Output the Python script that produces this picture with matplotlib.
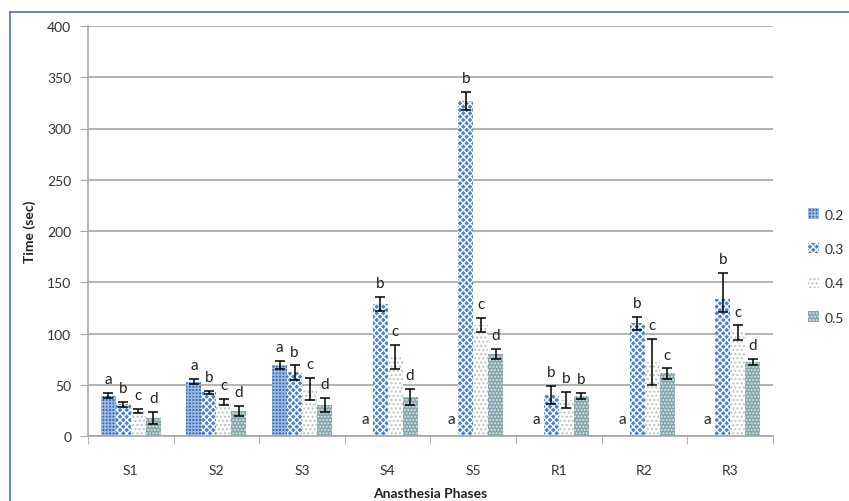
import numpy as np
import matplotlib
matplotlib.use("Agg")
import matplotlib.pyplot as plt
from matplotlib.lines import Line2D

plt.rcParams['font.family'] = ['Lato', 'DejaVu Sans']
plt.rcParams['hatch.linewidth'] = 1.0

phases = ['S1', 'S2', 'S3', 'S4', 'S5', 'R1', 'R2', 'R3']
doses = ['0.2', '0.3', '0.4', '0.5']

# mean time (sec) per dose
t_02 = [39.5, 53, 69.5, 0, 0, 0, 0, 0]
t_03 = [31, 42.5, 62, 129, 327, 40, 110, 134]
t_04 = [24.5, 33, 46, 77, 108, 35, 72, 101]
t_05 = [17.5, 24.5, 30.5, 38, 80, 39, 61, 72]

# error bars (lower, upper)
e_02_lo = [2.5, 2.5, 4, 0, 0, 0, 0, 0]
e_02_hi = [2.5, 2.5, 4, 0, 0, 0, 0, 0]
e_03_lo = [2.3, 1.5, 7, 7, 9, 9, 6.5, 13]
e_03_hi = [2.3, 1.5, 7, 7, 9, 9, 6.5, 25]
e_04_lo = [2, 3, 11, 12, 7, 8, 22.5, 7]
e_04_hi = [2, 3, 11, 12, 7, 8, 22.5, 7]
e_05_lo = [6, 5, 7, 8, 5, 3, 5, 3]
e_05_hi = [6, 5, 7, 8, 5, 3, 5, 3]

# significance letters per dose
let_02 = ['a'] * 8
let_03 = ['b'] * 8
let_04 = ['c', 'c', 'c', 'c', 'c', 'b', 'c', 'c']
let_05 = ['d', 'd', 'd', 'd', 'd', 'b', 'c', 'd']

series = [
    (t_02, e_02_lo, e_02_hi, let_02, dict(facecolor='#3a6db5', edgecolor='#9fbbe3', hatch='+++++')),
    (t_03, e_03_lo, e_03_hi, let_03, dict(facecolor='#4a80d6', edgecolor='white', hatch='xxxxx')),
    (t_04, e_04_lo, e_04_hi, let_04, dict(facecolor='white', edgecolor='#b4c6ba', hatch='....')),
    (t_05, e_05_lo, e_05_hi, let_05, dict(facecolor='#84a4aa', edgecolor='#dbe6e8', hatch='.....')),
]

fig = plt.figure(figsize=(8.49, 5.02), dpi=100)
ax = fig.add_axes([88/849, 1-437/502, (773-88)/849, (437-27)/502])

x = np.arange(len(phases))
w = 0.175
handles = []
for i, (vals, lo, hi, letters, style) in enumerate(series):
    xs = x + (i - 1.5) * w
    b = ax.bar(xs, vals, w, linewidth=0, label=doses[i], zorder=2, **style)
    handles.append(b)
    vals_a = np.array(vals, dtype=float)
    keep = vals_a > 0
    ax.errorbar(xs[keep], vals_a[keep],
                yerr=[np.array(lo)[keep], np.array(hi)[keep]], fmt='none',
                ecolor='black', elinewidth=1.1, capsize=3.5, capthick=1.1, zorder=3)
    for xi, v, h, s in zip(xs, vals, hi, letters):
        off = 7 if v > 0 else 9
        ax.annotate(s, (xi, v + h), xytext=(0, off), textcoords='offset points',
                    ha='center', va='baseline', fontsize=11, color='#222222')

ax.set_xlim(-0.5, 7.5)
ax.set_ylim(0, 400)
ax.set_yticks(range(0, 401, 50))
ax.grid(axis='y', color='#a6a6a6', linewidth=1.2, zorder=0)
ax.set_axisbelow(True)

ax.set_xticks(x)
ax.set_xticklabels(phases)
ax.set_xticks(np.arange(-0.5, 8, 1), minor=True)
ax.tick_params(axis='x', which='major', length=0, pad=20, labelsize=10, labelcolor='#333333')
ax.tick_params(axis='x', which='minor', length=6, direction='out', color='#a6a6a6')
ax.tick_params(axis='y', length=6, direction='out', color='#a6a6a6', pad=6,
               labelsize=10, labelcolor='#333333')

for side in ['top', 'right']:
    ax.spines[side].set_visible(False)
for side in ['left', 'bottom']:
    ax.spines[side].set_color('#a6a6a6')
    ax.spines[side].set_linewidth(1.2)

ax.set_ylabel('Time (sec)', fontsize=10, fontweight='bold', color='#222222', labelpad=8)
ax.set_xlabel('Anasthesia Phases', fontsize=10, fontweight='bold', color='#222222', labelpad=8)

fig.legend(handles=handles, loc='center left', bbox_to_anchor=(795/849, 1-267/502),
           frameon=False, fontsize=10, labelspacing=1.6, handlelength=0.8,
           handleheight=0.8, handletextpad=0.4, labelcolor='#333333')

# outer frame of the original figure
fig.add_artist(Line2D([10/849, 1], [1-13/502, 1-13/502], transform=fig.transFigure,
                      color='#4f6fbf', linewidth=1.2))
fig.add_artist(Line2D([10/849, 10/849], [0, 1-13/502], transform=fig.transFigure,
                      color='#4f6fbf', linewidth=1.2))

fig.savefig('out.png', dpi=100)
